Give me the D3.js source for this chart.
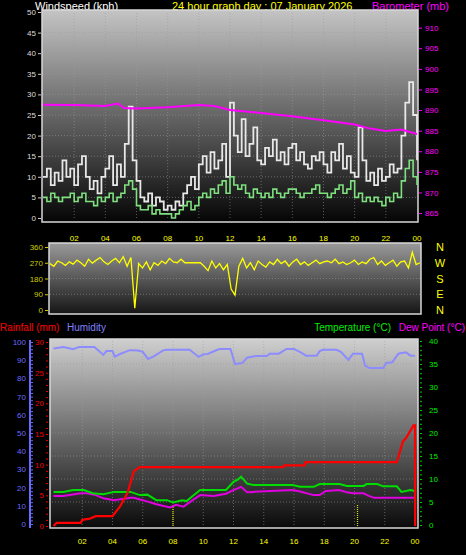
<!DOCTYPE html>
<html>
<head>
<meta charset="utf-8">
<script src="https://cdn.jsdelivr.net/npm/d3@7"></script>
<style>
body { margin: 0; background: #000; }
text { font-family: "Liberation Sans", Arial, sans-serif; }
</style>
</head>
<body>
<svg id="chart" width="466" height="555"></svg>
<script>
// wind, 15 minute samples from 00:00 to 24:00
var gust = [10,12,8,11, 9,14,10,12, 8,13,15,10, 7,9,6,10, 12,15,8,13, 10,18,27,14,
  9,5,4,6, 3,5,4,2, 3,2,4,3, 6,8,10,7, 13,15,11,16, 12,14,18,10, 28,20,16,24,
  15,18,22,14, 13,17,15,19, 14,16,13,17, 18,14,16,13, 12,15,14,16, 13,11,16,14,
  18,12,15,11, 10,22,14,9, 11,8,12,9, 10,13,11,12, 20,28,33,25, 14]
var avgWind = [5,4,6,5, 4,5,5,6, 4,5,6,4, 4,3,5,4, 5,6,4,5, 6,8,9,7, 3,2,2,3,
  1,2,1,1, 1,0,1,2, 3,4,2,3, 5,6,5,7, 6,8,9,6, 10,8,7,8, 6,5,7,6, 5,6,5,7,
  6,5,6,7, 7,6,5,6, 6,7,8,6, 6,5,6,7, 8,6,7,9, 5,6,4,5, 4,5,4,3, 5,4,6,5, 9,12,14,10, 8]
var direction = [265,250,280,270, 255,275,262,285, 270,250,290,268, 285,300,275,260,
  280,295,270,305, 250,300,10,265, 240,275,230,270, 255,280,265,295, 275,270,290,270,
  270,270,270,270, 250,225,280,240, 265,230,260,120, 85,250,295,240, 270,230,280,260,
  245,275,260,290, 265,280,250,275, 290,260,275,255, 270,285,265,275, 280,270,290,265,
  275,260,270,285, 260,275,265,290, 300,260,280,255, 270,285,250,275, 280,240,330,260, 270]

var baroHours = [0, 2, 4, 4.8, 5.2, 6, 8, 10, 11, 12, 14, 16, 18, 20, 21, 22, 23, 24]
var baroVals = [891.3, 891.2, 891.0, 891.6, 890.5, 890.4, 890.7, 891.2, 891.0, 890.0, 889.3, 888.5, 887.5, 886.5, 885.5, 884.9, 885.3, 884.2]

var humHours = [0.1, 0.75, 1.4, 1.8, 2.8, 3.4, 3.6, 4.0, 4.15, 4.5, 5.15, 5.7, 6.0, 6.35, 6.7, 7.35, 7.6, 9.1, 9.7, 10.0, 10.3, 10.9,
  11.1, 11.8, 12.1, 12.6, 12.9, 13.5, 14.2, 14.4, 15.0, 15.5, 16.0, 16.5, 16.8, 17.5, 17.7, 17.9, 18.8, 19.1, 19.6, 19.9, 20.5, 20.7,
  21.0, 21.9, 22.1, 22.5, 22.9, 23.4, 23.7, 24.0]
var humVals = [96.4, 97.3, 96.0, 97.3, 97.3, 92.9, 95, 95, 92, 93.4, 95.5, 95.3, 94.6, 90.7, 92, 95.4, 95.7, 95.7, 91.8, 93.2, 93.4, 95.6,
  96.2, 96.2, 87.9, 88.5, 91.4, 92.3, 92.3, 93.6, 93.6, 96.2, 96.2, 94, 92.5, 92.5, 95, 95.7, 95.7, 94.6, 90.2, 93.6, 93.6, 87,
  85.7, 85.7, 88.5, 88.9, 93.6, 94.3, 92.5, 92.5]

var tempHours = [0.1, 0.75, 1.4, 2.1, 2.7, 3.4, 4.1, 5.2, 5.8, 6.3, 6.9, 7.6, 8.0, 8.6, 8.9, 9.3, 9.8, 10.2, 11.5, 12.0, 12.3, 12.5,
  12.9, 13.3, 15.9, 16.4, 17.3, 17.7, 19.0, 19.5, 19.9, 20.6, 20.8, 21.5, 21.9, 22.8, 23.1, 23.7, 24.0]
var tempVals = [7.2, 7.2, 7.6, 7.6, 6.9, 6.7, 7.2, 7.2, 6.5, 6.6, 5.4, 5.4, 4.9, 5.4, 5.2, 6.3, 7.6, 7.6, 7.6, 9.4, 9.9, 10.5,
  9.0, 8.7, 8.7, 8.3, 8.3, 8.9, 8.9, 8.5, 8.5, 8.5, 8.9, 8.9, 8.4, 8.4, 7.2, 7.6, 7.4]
var dewHours = [0.1, 0.75, 1.9, 2.3, 2.9, 3.4, 4.1, 5.2, 5.4, 6.0, 6.9, 7.8, 8.2, 8.7, 9.3, 9.8, 10.7, 11.5, 12.0, 12.5, 12.9, 13.3,
  15.9, 16.4, 17.3, 17.7, 18.1, 19.0, 19.5, 19.9, 20.6, 20.9, 21.3, 24.0]
var dewVals = [6.3, 6.3, 6.9, 6.9, 6.5, 5.8, 5.4, 5.9, 5.9, 5.4, 4.5, 3.8, 4.4, 4.0, 5.4, 6.5, 6.3, 6.8, 7.6, 8.3, 7.1, 7.2,
  7.6, 7.3, 6.5, 6.5, 7.4, 7.6, 7.1, 6.9, 6.9, 6.4, 5.9, 5.9]

var rainHours = [0.1, 0.3, 1.9, 2.0, 2.5, 2.9, 4.0, 4.5, 5.0, 5.4, 5.8, 15.3, 15.35, 16.7, 16.75, 22.8, 23.2, 23.4, 23.9, 24.0, 24.01]
var rainVals = [0, 0.5, 0.5, 1.0, 1.2, 1.6, 1.6, 3.2, 5.4, 8.9, 9.6, 9.6, 9.9, 9.9, 10.4, 10.4, 13.8, 14.3, 16.4, 16.4, 0]

var hourTicks = ["02", "04", "06", "08", "10", "12", "14", "16", "18", "20", "22", "00"]
var dirLetters = ["N", "W", "S", "E", "N"]
var dirTicks = [0, 90, 180, 270, 360]
var markerHours = [8.0, 20.2]

var svg = d3.select("#chart")
var defs = svg.append("defs")
function grad(id, c1, c2) {
    var g = defs.append("linearGradient").attr("id", id).attr("x1", 0).attr("x2", 0).attr("y1", 0).attr("y2", 1)
    g.append("stop").attr("offset", "0%").attr("stop-color", c1)
    g.append("stop").attr("offset", "100%").attr("stop-color", c2)
}
grad("gTop", "#c4c4c4", "#050505")
grad("gDir", "#9a9a9a", "#151515")
grad("gBot", "#cfcfcf", "#0a0a0a")

var qHours = gust.map(function(d, i) { return i / 4 })

// ---------- header ----------
svg.append("text").attr("x", 35).attr("y", 10).attr("fill", "#fff").attr("font-size", 11).text("Windspeed (kph)")
svg.append("text").attr("x", 172).attr("y", 10).attr("fill", "#ffff00").attr("font-size", 11).text("24 hour graph day : 07 January 2026")
svg.append("text").attr("x", 372).attr("y", 10).attr("fill", "#ff00ff").attr("font-size", 11).text("Barometer (mb)")

function panel(x0, x1, y0, y1, fill) {
    svg.append("rect").attr("x", x0).attr("y", y0).attr("width", x1 - x0).attr("height", y1 - y0)
        .attr("fill", "url(#" + fill + ")").attr("stroke", "#d8d8d8").attr("stroke-width", 1.5)
}
function grid(x, y, xv, yv) {
    var g = svg.append("g").attr("stroke", "#9a9a9a").attr("stroke-opacity", 0.55).attr("stroke-dasharray", "1,2")
    xv.forEach(function(v) { g.append("line").attr("x1", x(v)).attr("x2", x(v)).attr("y1", y.range()[0]).attr("y2", y.range()[1]) })
    yv.forEach(function(v) { g.append("line").attr("x1", x.range()[0]).attr("x2", x.range()[1]).attr("y1", y(v)).attr("y2", y(v)) })
}
var evenHours = d3.range(2, 24, 2)

// ---------- wind panel ----------
var xTop = d3.scaleLinear().domain([0, 24]).range([43, 417])
var yWind = d3.scaleLinear().domain([0, 50]).range([218, 12])
var yBaro = d3.scaleLinear().domain([863.8, 913.8]).range([218, 12])
panel(42, 418, 10, 222, "gTop")
grid(xTop, yWind, evenHours, d3.range(5, 50, 5))

svg.append("path").datum(gust).attr("fill", "none").attr("stroke", "#e8e8e8").attr("stroke-width", 1.8)
    .attr("d", d3.line().x(function(d, i) { return xTop(qHours[i]) }).y(function(d) { return yWind(d) }).curve(d3.curveStepAfter))
svg.append("path").datum(avgWind).attr("fill", "none").attr("stroke", "#7fe07f").attr("stroke-width", 1.6)
    .attr("d", d3.line().x(function(d, i) { return xTop(qHours[i]) }).y(function(d) { return yWind(d) }).curve(d3.curveStepAfter))
svg.append("path").datum(baroVals).attr("fill", "none").attr("stroke", "#ff00ff").attr("stroke-width", 2)
    .attr("d", d3.line().x(function(d, i) { return xTop(baroHours[i]) }).y(function(d) { return yBaro(d) }))

var axL = svg.append("g").attr("transform", "translate(41,0)")
    .call(d3.axisLeft(yWind).tickValues(d3.range(0, 51, 5)).tickSize(3).tickPadding(2))
axL.select(".domain").remove()
axL.selectAll("line").attr("stroke", "#ccc")
axL.selectAll("text").attr("fill", "#ddd").attr("font-size", 8)
var axR = svg.append("g").attr("transform", "translate(419,0)")
    .call(d3.axisRight(yBaro).tickValues(d3.range(865, 911, 5)).tickSize(3).tickPadding(3))
axR.select(".domain").remove()
axR.selectAll("line").attr("stroke", "#ff00ff")
axR.selectAll("text").attr("fill", "#ff00ff").attr("font-size", 8)

// ---------- direction panel ----------
var xDir = d3.scaleLinear().domain([0, 24]).range([50, 420])
var yDir = d3.scaleLinear().domain([0, 360]).range([310, 247])
panel(49, 421, 243, 314, "gDir")
grid(xDir, yDir, [], [90, 180, 270])
svg.append("path").datum(direction).attr("fill", "none").attr("stroke", "#ffff00").attr("stroke-width", 1.3)
    .attr("d", d3.line().x(function(d, i) { return xDir(qHours[i]) }).y(function(d) { return yDir(d) }))
var axD = svg.append("g").attr("transform", "translate(48,0)")
    .call(d3.axisLeft(yDir).tickValues(dirTicks).tickSize(3).tickPadding(2))
axD.select(".domain").remove()
axD.selectAll("line").attr("stroke", "#cccc00")
axD.selectAll("text").attr("fill", "#cccc00").attr("font-size", 8)
svg.selectAll(".dirl").data(dirLetters).enter().append("text")
    .attr("x", 440).attr("y", function(d, i) { return yDir(dirTicks[4 - i]) + 4 })
    .attr("text-anchor", "middle").attr("fill", "#ffff00").attr("font-size", 11).text(function(d) { return d })

svg.selectAll(".ht").data(hourTicks).enter().append("text")
    .attr("x", function(d, i) { return xTop((i + 1) * 2) }).attr("y", 241)
    .attr("text-anchor", "middle").attr("fill", "#ffff00").attr("font-size", 8).text(function(d) { return d })

// ---------- legends ----------
svg.append("text").attr("x", 0).attr("y", 331).attr("fill", "#ff0000").attr("font-size", 10).text("Rainfall (mm)")
svg.append("text").attr("x", 67).attr("y", 331).attr("fill", "#8080ff").attr("font-size", 10).text("Humidity")
svg.append("text").attr("x", 391).attr("y", 331).attr("text-anchor", "end").attr("fill", "#00ee00").attr("font-size", 10).text("Temperature (°C)")
svg.append("text").attr("x", 465).attr("y", 331).attr("text-anchor", "end").attr("fill", "#ff00ff").attr("font-size", 10).text("Dew Point (°C)")

// ---------- bottom panel ----------
var xBot = d3.scaleLinear().domain([0, 24]).range([52, 415])
var yHum = d3.scaleLinear().domain([0, 100]).range([524, 342])
var yRain = d3.scaleLinear().domain([0, 30]).range([526, 342])
var yTemp = d3.scaleLinear().domain([0, 40]).range([525, 341])
panel(50, 418, 339, 528, "gBot")
grid(xBot, yTemp, evenHours, d3.range(5, 40, 5))

var sdots = svg.append("g").attr("stroke", "#e0e000").attr("stroke-dasharray", "1,1").attr("stroke-width", 1.2)
markerHours.forEach(function(h) { sdots.append("line").attr("x1", xBot(h)).attr("x2", xBot(h)).attr("y1", 505).attr("y2", 527) })

function series(hours, vals, y, color, w) {
    svg.append("path").datum(vals).attr("fill", "none").attr("stroke", color).attr("stroke-width", w)
        .attr("d", d3.line().x(function(d, i) { return xBot(hours[i]) }).y(function(d) { return y(d) }))
}
series(humHours, humVals, yHum, "#8c8cff", 2)
series(dewHours, dewVals, yTemp, "#e000e0", 2)
series(tempHours, tempVals, yTemp, "#00dd00", 2)
series(rainHours, rainVals, yRain, "#ff0000", 2.2)

svg.append("line").attr("x1", 30).attr("x2", 30).attr("y1", 340).attr("y2", 528).attr("stroke", "#6b6bff").attr("stroke-width", 2)
var axH = svg.append("g").attr("transform", "translate(31,0)")
    .call(d3.axisRight(yHum).tickValues(d3.range(0, 101, 2)).tickSize(2).tickFormat(""))
axH.select(".domain").remove()
axH.selectAll("line").attr("stroke", "#6b6bff")
svg.selectAll(".hl").data(d3.range(0, 101, 10)).enter().append("text")
    .attr("x", 26).attr("y", function(d) { return yHum(d) + 3 }).attr("text-anchor", "end")
    .attr("fill", "#6b6bff").attr("font-size", 8).text(function(d) { return d })

var axRain = svg.append("g").attr("transform", "translate(48,0)")
    .call(d3.axisLeft(yRain).tickValues(d3.range(0, 31, 1)).tickSize(2).tickFormat(""))
axRain.select(".domain").remove()
axRain.selectAll("line").attr("stroke", "#ee0000")
svg.selectAll(".rl").data(d3.range(0, 31, 5)).enter().append("text")
    .attr("x", 44).attr("y", function(d) { return yRain(d) + 3 }).attr("text-anchor", "end")
    .attr("fill", "#ee0000").attr("font-size", 8).text(function(d) { return d })

var axT = svg.append("g").attr("transform", "translate(420,0)")
    .call(d3.axisRight(yTemp).tickValues(d3.range(0, 41, 1)).tickSize(2).tickFormat(""))
axT.select(".domain").remove()
axT.selectAll("line").attr("stroke", "#00cc00")
svg.selectAll(".tl").data(d3.range(0, 41, 5)).enter().append("text")
    .attr("x", 429).attr("y", function(d) { return yTemp(d) + 3 })
    .attr("fill", "#00ee00").attr("font-size", 8).text(function(d) { return d })

svg.selectAll(".hb").data(hourTicks).enter().append("text")
    .attr("x", function(d, i) { return xBot((i + 1) * 2) }).attr("y", 544)
    .attr("text-anchor", "middle").attr("fill", "#ffff00").attr("font-size", 8).text(function(d) { return d })
</script>
</body>
</html>
